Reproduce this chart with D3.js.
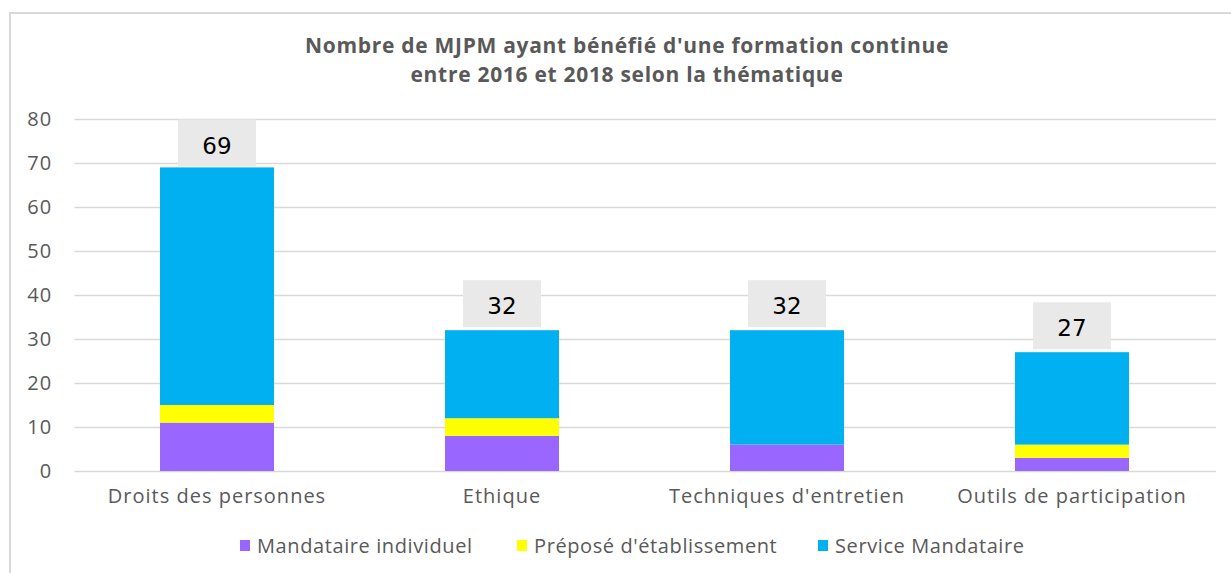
<!DOCTYPE html>
<html>
<head>
<meta charset="utf-8">
<script src="https://cdn.jsdelivr.net/npm/d3@7"></script>
<style>
  body { margin: 0; background: #fff; }
  svg { display: block; font-family: "Open Sans", sans-serif; }
</style>
</head>
<body>
<div id="okvir"></div>
<script>
// podaci procitani sa slike
const kategorije = ["Droits des personnes", "Ethique", "Techniques d'entretien", "Outils de participation"];
const serije = ["Mandataire individuel", "Préposé d'établissement", "Service Mandataire"];
const mandataire = [11, 8, 6, 3];
const prepose = [4, 4, 0, 3];
const service = [54, 20, 26, 21];
const ukupno = [69, 32, 32, 27];
const yTicks = [0, 10, 20, 30, 40, 50, 60, 70, 80];
const naslov = ["Nombre de MJPM ayant bénéfié d'une formation continue", "entre 2016 et 2018 selon la thématique"];

const boje = ["#9966ff", "#ffff00", "#00b0f0"];

const sirina = 1231, visina = 573;
const dim = { left: 74.5, right: 1214.5, top: 119, bottom: 471 };

const svg = d3.select("#okvir").append("svg")
  .attr("width", sirina)
  .attr("height", visina);

// okvir grafa
svg.append("path")
  .attr("d", `M10,${visina} L10,13 L${sirina},13`)
  .attr("fill", "none")
  .attr("stroke", "#d9d9d9")
  .attr("stroke-width", 2);

// naslov
svg.append("g").selectAll("text")
  .data(naslov)
  .join("text")
  .attr("x", 627)
  .attr("y", (d, i) => 53 + i * 29)
  .attr("text-anchor", "middle")
  .attr("font-size", 21)
  .attr("letter-spacing", 0.7)
  .attr("font-weight", "bold")
  .attr("fill", "#595959")
  .text(d => d);

const xSkala = d3.scaleBand()
  .domain(kategorije)
  .range([dim.left, dim.right])
  .paddingInner(0.6)
  .paddingOuter(0.3);

const ySkala = d3.scaleLinear()
  .domain([0, 80])
  .range([dim.bottom, dim.top]);

// mreza i y os
const yOs = d3.axisLeft(ySkala)
  .tickValues(yTicks)
  .tickSize(-(1216 - dim.left))
  .tickPadding(22);

const yG = svg.append("g")
  .attr("transform", `translate(${dim.left},0)`)
  .call(yOs);
yG.select(".domain").remove();
yG.selectAll(".tick line").attr("stroke", "#d9d9d9").attr("stroke-width", 1.3);
yG.selectAll(".tick text")
  .attr("fill", "#595959")
  .attr("font-size", 20)
  .attr("letter-spacing", 1.2)
  .attr("font-family", "Open Sans, sans-serif");

// stupci
const tablica = kategorije.map((k, i) => ({
  kat: k,
  [serije[0]]: mandataire[i],
  [serije[1]]: prepose[i],
  [serije[2]]: service[i]
}));
const slojevi = d3.stack().keys(serije)(tablica);

svg.append("g").selectAll("g")
  .data(slojevi)
  .join("g")
  .attr("fill", (d, i) => boje[i])
  .selectAll("rect")
  .data(d => d.filter(s => s[1] > s[0]))
  .join("rect")
  .attr("x", d => xSkala(d.data.kat))
  .attr("y", d => ySkala(d[1]))
  .attr("width", xSkala.bandwidth())
  .attr("height", d => ySkala(d[0]) - ySkala(d[1]));

// oznake ukupno
const oznake = svg.append("g").selectAll("g")
  .data(kategorije)
  .join("g")
  .attr("transform", (d, i) => {
    const cx = xSkala(d) + xSkala.bandwidth() / 2;
    const vrh = Math.max(dim.top + 0.5, ySkala(ukupno[i]) - 50);
    return `translate(${cx},${vrh})`;
  });
oznake.append("rect")
  .attr("x", -39)
  .attr("y", 0)
  .attr("width", 78)
  .attr("height", 47)
  .attr("fill", "#e9e9e9");
oznake.append("text")
  .attr("x", 0)
  .attr("y", 34)
  .attr("text-anchor", "middle")
  .attr("font-family", "DejaVu Sans, sans-serif")
  .attr("font-size", 23)
  .attr("fill", "#000")
  .text((d, i) => ukupno[i]);

// x os
const xG = svg.append("g")
  .attr("transform", `translate(0,${dim.bottom})`)
  .call(d3.axisBottom(xSkala).tickSize(0).tickPadding(18));
xG.select(".domain").remove();
xG.selectAll(".tick text")
  .attr("fill", "#595959")
  .attr("font-size", 20)
  .attr("letter-spacing", 1)
  .attr("font-family", "Open Sans, sans-serif");

// legenda
const legX = [240, 517, 818];
const leg = svg.append("g").selectAll("g")
  .data(serije)
  .join("g")
  .attr("transform", (d, i) => `translate(${legX[i]},546)`);
leg.append("rect")
  .attr("x", 0)
  .attr("y", -6)
  .attr("width", 10)
  .attr("height", 11)
  .attr("fill", (d, i) => boje[i]);
leg.append("text")
  .attr("x", 17)
  .attr("y", 7)
  .attr("font-size", 20)
  .attr("letter-spacing", 0.6)
  .attr("fill", "#595959")
  .text(d => d);
</script>
</body>
</html>
